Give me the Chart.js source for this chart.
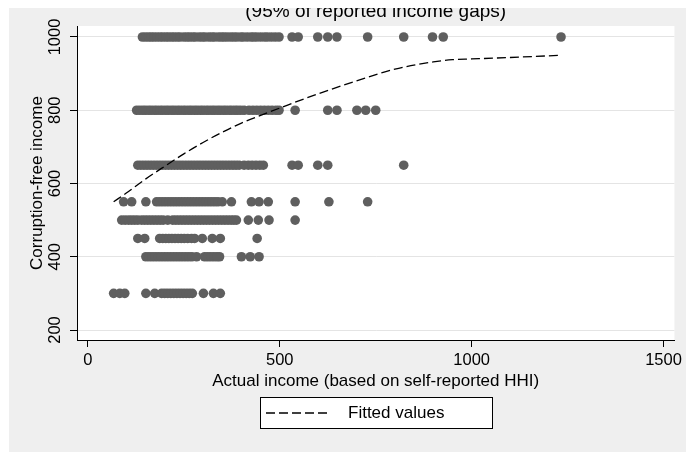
<!DOCTYPE html>
<html><head><meta charset="utf-8">
<script src="https://cdn.jsdelivr.net/npm/chart.js@4/dist/chart.umd.min.js"></script>
<style>html,body{margin:0;padding:0;background:#fff}canvas{display:block}</style>
</head><body>
<canvas id="c" width="686" height="452" style="width:686px;height:452px"></canvas>
<script>
const chartTitle = '(95% of reported income gaps)';
const xAxisTitle = 'Actual income (based on self-reported HHI)';
const yAxisTitle = 'Corruption-free income';
const legendLabel = 'Fitted values';
const xTickValues = [0, 500, 1000, 1500];
const yTickValues = [200, 400, 600, 800, 1000];

const incomeLevels = [1000, 800, 650, 550, 500, 450, 400, 300];
const actualAt1000 = [142,150,158,165,172,180,188,195,203,210,218,225,233,240,250,258,265,273,280,290,298,305,315,323,330,340,348,355,363,372,380,388,398,405,415,425,432,440,450,460,468,478,488,498,532,548,599,625,649,729,823,898,926,1233];
const actualAt800 = [127,135,143,150,158,165,173,180,188,195,203,210,218,225,233,240,248,255,263,270,278,285,293,300,308,315,323,330,338,345,353,360,368,375,383,390,398,407,420,430,440,450,460,470,480,490,498,540,625,649,701,724,750];
const actualAt650 = [130,138,146,154,162,170,178,186,194,202,210,218,226,234,242,250,258,266,274,282,290,298,306,314,322,330,338,346,354,362,370,378,386,394,407,418,428,438,448,457,532,548,599,625,823];
const actualAt550 = [93,114,151,179,187,195,203,211,219,227,235,243,251,259,267,275,283,291,299,307,315,323,331,339,350,374,426,446,470,540,628,729];
const actualAt500 = [88,97,106,114,122,130,140,148,156,164,172,180,188,196,208,221,229,237,245,253,261,269,277,285,293,301,309,317,325,333,341,349,357,365,373,380,387,418,444,472,540];
const actualAt450 = [130,148,187,195,203,211,219,227,235,243,251,260,270,278,298,324,345,441];
const actualAt400 = [151,159,167,175,183,191,199,207,215,223,231,239,247,255,263,271,283,304,312,320,328,336,343,400,423,446];
const actualAt300 = [67,83,96,151,174,192,200,208,216,224,232,240,248,256,264,272,301,327,345];
const actualByLevel = [actualAt1000, actualAt800, actualAt650, actualAt550, actualAt500, actualAt450, actualAt400, actualAt300];

const fittedX = [67, 100, 150, 200, 250, 300, 350, 400, 450, 500, 600, 700, 800, 900, 950, 1000, 1100, 1233];
const fittedY = [550, 574, 612, 647, 681, 712, 740, 765, 786, 806, 845, 880, 912, 932, 938, 940, 944, 950];

const FONT = "'Liberation Sans', Arial, Helvetica, sans-serif";
Chart.defaults.font.family = FONT;
Chart.defaults.color = '#000';

const scatterPoints = [];
incomeLevels.forEach((lvl, i) => actualByLevel[i].forEach(x => scatterPoints.push({x: x, y: lvl})));
const fittedPoints = fittedX.map((x, i) => ({x: x, y: fittedY[i]}));

const stataPlugin = {
  id: 'stataLook',
  beforeDraw(chart) {
    const {ctx, chartArea: a} = chart;
    ctx.save();
    ctx.fillStyle = '#fff';
    ctx.fillRect(0, 0, chart.width, chart.height);
    ctx.fillStyle = '#efefef';
    ctx.fillRect(9, 8, chart.width - 9, chart.height - 8);
    ctx.fillStyle = '#fff';
    ctx.fillRect(a.left, a.top, a.right - a.left, a.bottom - a.top);
    ctx.restore();
  },
  afterDraw(chart) {
    const {ctx, chartArea: a} = chart;
    ctx.save();
    ctx.font = '19px ' + FONT;
    ctx.fillStyle = '#000';
    ctx.textAlign = 'center';
    ctx.textBaseline = 'alphabetic';
    ctx.fillText(chartTitle, (a.left + a.right) / 2, 17);
    ctx.fillStyle = '#fff';
    ctx.fillRect(0, 0, chart.width, 8);
    const ds = chart.data.datasets[0];
    const bx = 260.5, by = 397.5, bw = 232, bh = 31;
    ctx.fillStyle = '#fff';
    ctx.fillRect(bx, by, bw, bh);
    ctx.strokeStyle = '#000';
    ctx.lineWidth = 1;
    ctx.setLineDash([]);
    ctx.strokeRect(bx, by, bw, bh);
    ctx.beginPath();
    ctx.setLineDash(ds.borderDash);
    ctx.lineWidth = ds.borderWidth;
    ctx.strokeStyle = ds.borderColor;
    ctx.moveTo(266, 413);
    ctx.lineTo(331, 413);
    ctx.stroke();
    ctx.setLineDash([]);
    ctx.font = '17px ' + FONT;
    ctx.fillStyle = '#000';
    ctx.textAlign = 'left';
    ctx.textBaseline = 'middle';
    ctx.fillText(ds.label, 348, 413);
    ctx.restore();
  }
};

new Chart(document.getElementById('c').getContext('2d'), {
  type: 'scatter',
  data: {
    datasets: [
      {type: 'line', label: legendLabel, data: fittedPoints, borderColor: '#000', borderWidth: 1.3,
       borderDash: [9, 4], pointRadius: 0, fill: false, cubicInterpolationMode: 'monotone', order: 0},
      {label: yAxisTitle, data: scatterPoints, pointRadius: 4.8, pointBackgroundColor: '#5f5f5f',
       pointBorderWidth: 0, pointBorderColor: '#5f5f5f', order: 1}
    ]
  },
  options: {
    responsive: false,
    animation: false,
    devicePixelRatio: 1,
    layout: {padding: {left: 0, right: 9, top: 26, bottom: 60}},
    plugins: {legend: {display: false}, tooltip: {enabled: false}, title: {display: false}},
    scales: {
      x: {
        type: 'linear', min: -28.5, max: 1528.5,
        afterBuildTicks: s => { s.ticks = xTickValues.map(v => ({value: v})); },
        afterFit: s => { s.height = 52; },
        grid: {drawOnChartArea: false, tickLength: 7, tickColor: '#000', tickWidth: 1},
        border: {color: '#000', width: 1},
        ticks: {font: {size: 16.5}, color: '#000', padding: 4, maxRotation: 0, autoSkip: false,
                callback: v => String(v)},
        title: {display: true, text: xAxisTitle, font: {size: 17}, color: '#000', padding: {top: 0, bottom: 0.8}}
      },
      y: {
        type: 'linear', min: 172.7, max: 1030,
        afterBuildTicks: s => { s.ticks = yTickValues.map(v => ({value: v})); },
        afterFit: s => { s.width = 77; },
        grid: {color: '#e4e4e4', lineWidth: 1, tickLength: 7, tickColor: '#000', tickWidth: 1},
        border: {color: '#000', width: 1},
        ticks: {font: {size: 16.5}, color: '#000', minRotation: 90, maxRotation: 90, crossAlign: 'center',
                padding: -4, autoSkip: false, callback: v => String(v)},
        title: {display: true, text: yAxisTitle, font: {size: 17}, color: '#000', padding: {top: 27.3, bottom: 0}}
      }
    }
  },
  plugins: [stataPlugin]
});
</script>
</body></html>
